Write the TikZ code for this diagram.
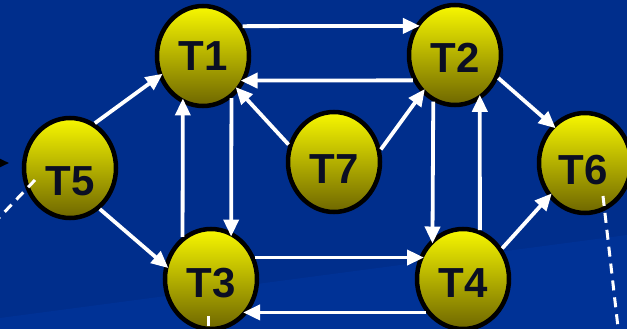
\documentclass[tikz,border=0pt]{standalone}
\usepackage{fontspec}
\setmainfont{Liberation Sans}
\usetikzlibrary{shapes.geometric,arrows.meta,calc}
\definecolor{bgblue}{RGB}{0,46,140}
\definecolor{bgband}{RGB}{0,50,150}
\definecolor{ytop}{RGB}{248,248,0}
\definecolor{ybot}{RGB}{110,102,0}
\definecolor{txt}{RGB}{10,14,35}
\begin{document}
\begin{tikzpicture}[x=1pt,y=-1pt,
 task/.style={ellipse, draw=black, line width=4.5pt, minimum width=92pt, minimum height=100pt, inner sep=0pt, top color=ytop, bottom color=ybot},
 tlabel/.style={text=txt, font=\fontsize{42}{42}\selectfont\bfseries, inner sep=0pt},
 conn/.style={draw=white, line width=3.8pt, -{Triangle[length=17pt,width=15pt]}, shorten >=-5pt},
 dline/.style={draw=white, line width=3pt, dash pattern=on 10pt off 7pt},
]
\useasboundingbox (0,0) rectangle (627,329);
\clip (0,0) rectangle (627,329);
\fill[bgblue] (0,0) rectangle (627,329);
\fill[bgband] (0,318) -- (627,235) -- (627,329) -- (0,329) -- cycle;

% nodes
\node[task] (T1) at (203,56) {};
\node[task] (T2) at (455,55) {};
\node[task] (T5) at (70,168) {};
\node[task] (T7) at (334,162) {};
\node[task] (T6) at (585,163) {};
\node[task] (T3) at (211,279) {};
\node[task] (T4) at (463,279) {};

% labels
\node[tlabel] (L1) at ([yshift=0pt]T1.center) {T1};
\node[tlabel] (L2) at ([yshift=-3pt]T2.center) {T2};
\node[tlabel] (L5) at ([yshift=-13pt]T5.center) {T5};
\node[tlabel] (L7) at ([yshift=-7pt]T7.center) {T7};
\node[tlabel] (L6) at ([yshift=-7pt,xshift=-2pt]T6.center) {T6};
\node[tlabel] (L3) at ([yshift=-4pt]T3.center) {T3};
\node[tlabel] (L4) at ([yshift=-4pt]T4.center) {T4};

% connectors
\draw[conn] (T1.37) -- (T2.144);
\draw[conn] (T2.211) -- (T1.330);
\draw[conn] (T7.159) -- (T1.316);
\draw[conn] (T7.15) -- (T2.229);
\draw[conn] (T1.304) -- (T3.67);
\draw[conn] (T3.124) -- (T1.247);
\draw[conn] (T2.245) -- (T4.127);
\draw[conn] (T4.71) -- (T2.299);
\draw[conn] (T3.26) -- (T4.154);
\draw[conn] (T4.222) -- (T3.318);
\draw[conn] (T5.61) -- (T1.205);
\draw[conn] (T5.306) -- (T3.163);
\draw[conn] (T2.332) -- (T6.131);
\draw[conn] (T4.38) -- (T6.223);

% dashed lines leaving the picture
\coordinate (d5) at (-25,243);
\draw[dline] ($(T5.center)+(-35,12)$) -- (d5);
\coordinate (d6) at (620,345);
\draw[dline] ($(T6.center)+(18,33)$) -- (d6);
\coordinate (d3) at (208,350);
\draw[dline] ($(T3.center)+(-3,37)$) -- (d3);

% black arrow tip at the left edge
\coordinate (bk) at (-20,163);
\coordinate (bkt) at (9,163);
\draw[black, line width=2pt, -{Triangle[length=9pt,width=8pt]}] (bk) -- (bkt);
\end{tikzpicture}
\end{document}
